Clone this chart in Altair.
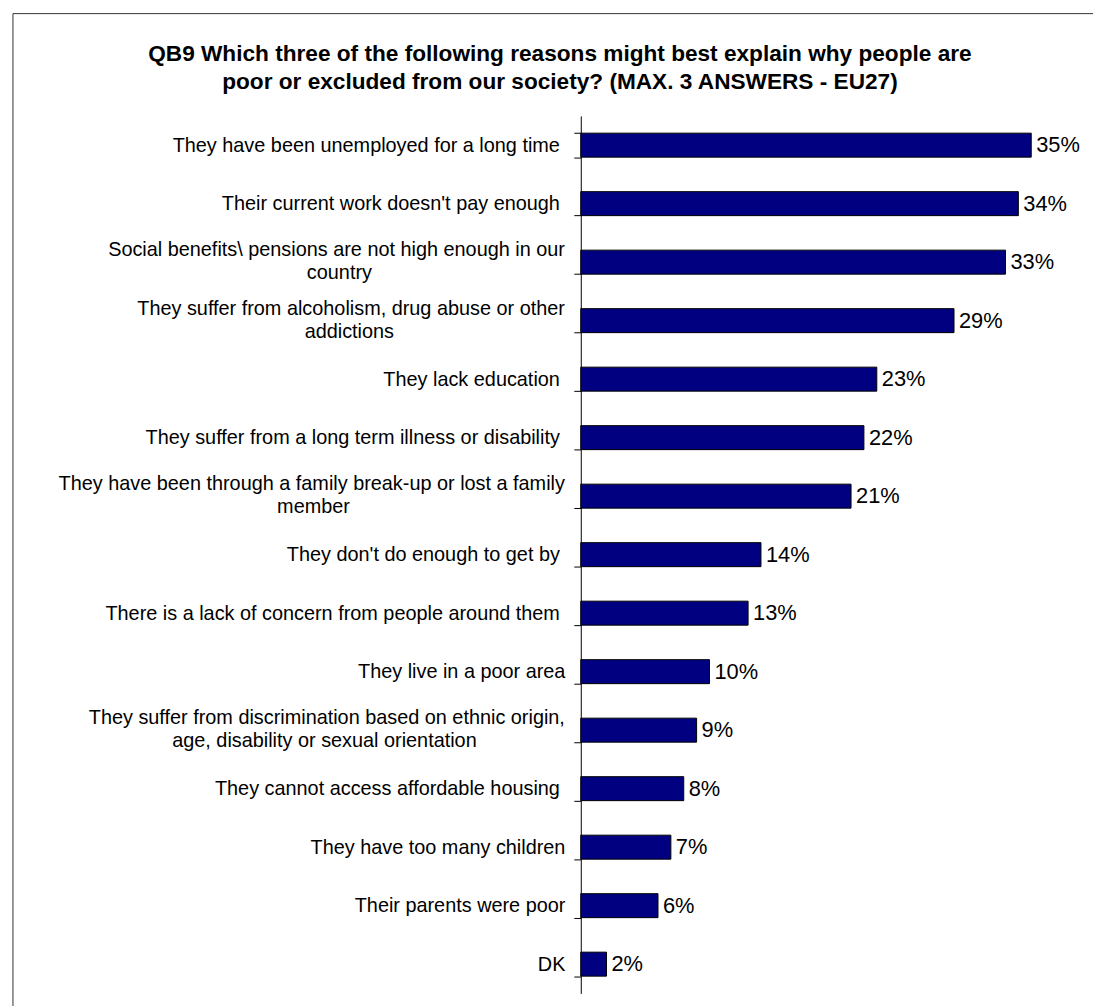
import altair as alt
import pandas as pd

# ---- data ----
categories = [
    "They have been unemployed for a long time ",
    "Their current work doesn't pay enough ",
    "Social benefits\\ pensions are not high enough in our|country",
    "They suffer from alcoholism, drug abuse or other|addictions",
    "They lack education ",
    "They suffer from a long term illness or disability ",
    "They have been through a family break-up or lost a family|member",
    "They don't do enough to get by ",
    "There is a lack of concern from people around them ",
    "They live in a poor area",
    "They suffer from discrimination based on ethnic origin,|age, disability or sexual orientation",
    "They cannot access affordable housing ",
    "They have too many children",
    "Their parents were poor",
    "DK",
]
values = [35, 34, 33, 29, 23, 22, 21, 14, 13, 10, 9, 8, 7, 6, 2]
title_lines = [
    "QB9 Which three of the following reasons might best explain why people are",
    "poor or excluded from our society? (MAX. 3 ANSWERS - EU27)",
]

# Arial / Liberation Sans advance widths (per 1000 em) used to centre wrapped lines
W = {"a": 556, "b": 556, "c": 500, "d": 556, "e": 556, "f": 278, "g": 556, "h": 556,
     "i": 222, "j": 222, "k": 500, "l": 222, "m": 833, "n": 556, "o": 556, "p": 556,
     "q": 556, "r": 333, "s": 500, "t": 278, "u": 556, "v": 500, "w": 722, "x": 500,
     "y": 500, "z": 500, " ": 278, ",": 278, "-": 333, "\\": 278, ".": 278, "'": 191,
     "S": 667, "T": 611, "D": 722, "K": 667}


def text_width(s):
    return sum(W.get(ch, 556) for ch in s)


NBSP = "\u00a0"
WJ = "\u2060"  # word joiner keeps the padding from being trailing white space


def prep(label):
    if label.endswith(" "):
        label = label.rstrip(" ") + NBSP + WJ
    parts = label.split("|")
    if len(parts) == 2:
        w1, w2 = text_width(parts[0]), text_width(parts[1])
        n = max(0, round((w1 - w2) / 2 / 278))
        return parts[0] + "|" + parts[1] + NBSP * n + WJ
    return label


labels = [prep(c) for c in categories]
df = pd.DataFrame({"cat": labels, "val": values, "txt": [f"{v}%" for v in values]})

FONT = "Liberation Sans"
LABEL_SIZE = 20
LINE_H = 23
TICK = 7
LPAD = 9

base = alt.Chart(df)

ycat = alt.Y(
    "cat:N",
    sort=None,
    scale=alt.Scale(paddingInner=0.59, paddingOuter=0.295),
    axis=alt.Axis(
        title=None,
        labelExpr="indexof(datum.label, '|') >= 0 ? '' : datum.label",
        labelFont=FONT,
        labelFontSize=LABEL_SIZE,
        labelColor="black",
        labelLimit=0,
        labelPadding=LPAD,
        tickSize=TICK,
        tickColor="black",
        tickBand="extent",
        domainColor="black",
        grid=False,
    ),
)

bars = base.mark_bar(color="#000080", stroke="black", strokeWidth=1).encode(
    y=ycat,
    x=alt.X("val:Q", scale=alt.Scale(domain=[0, 39.8], nice=False, zero=True), axis=None),
)

value_text = base.mark_text(
    align="left", baseline="middle", dx=5, fontSize=22, font=FONT, color="black"
).encode(
    y=alt.Y("cat:N", sort=None),
    x=alt.X("val:Q"),
    text="txt:N",
)

# wrapped (two-line) category labels, centred on their band
wrapped = base.transform_filter("indexof(datum.cat, '|') >= 0").mark_text(
    align="right", baseline="line-bottom", lineBreak="|", lineHeight=LINE_H,
    fontSize=LABEL_SIZE, font=FONT, color="black",
).encode(
    y=alt.Y("cat:N", sort=None),
    x=alt.value(-(TICK + LPAD)),
    text="cat:N",
)

one = pd.DataFrame({"d": [0]})

title = alt.Chart(one).mark_text(
    align="center", baseline="alphabetic", fontSize=22.8, fontWeight="bold",
    font=FONT, color="black", lineHeight=28,
).encode(x=alt.value(-21), y=alt.value(-55), text=alt.value(title_lines))

border = alt.Chart(one).mark_rect(filled=False, stroke="#333333", strokeWidth=1).encode(
    x=alt.value(-572), x2=alt.value(530), y=alt.value(-103), y2=alt.value(901)
)

chart = alt.layer(border, bars, value_text, wrapped, title).properties(
    width=516,
    height=884,
    padding={"left": 577, "top": 105, "right": 0, "bottom": 9},
    autosize=alt.AutoSizeParams(type="none"),
).configure_view(stroke=None)

chart.save("out.html", embed_options={"renderer": "svg", "actions": False})
